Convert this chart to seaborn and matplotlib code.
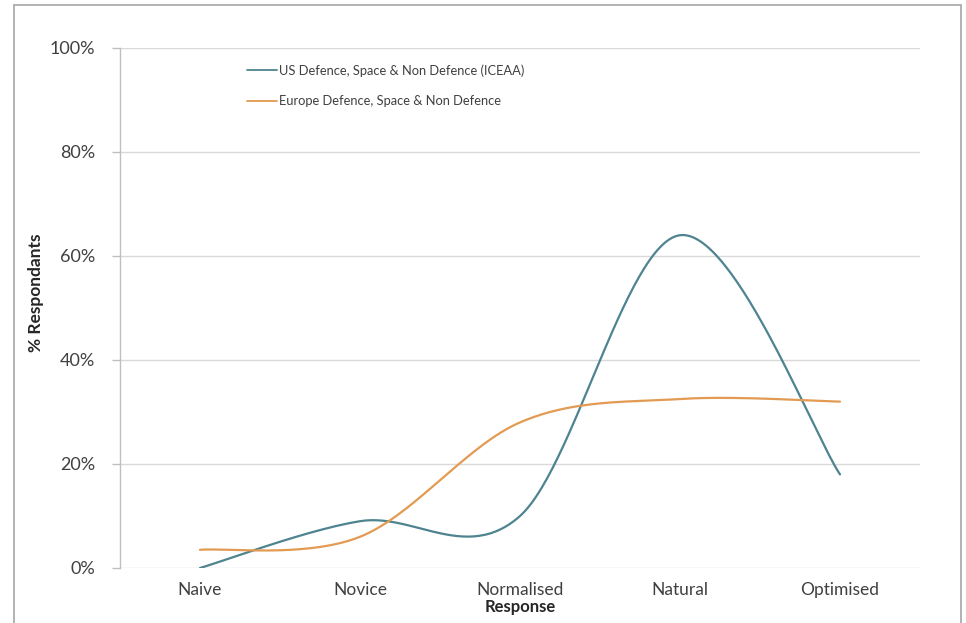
import numpy as np
import pandas as pd
import matplotlib
matplotlib.use("Agg")
import matplotlib.pyplot as plt
from matplotlib.patches import Rectangle
from matplotlib.lines import Line2D
from matplotlib.ticker import FuncFormatter
import seaborn as sns

# Survey results: share of respondents at each maturity level (%)
categories = ["Naive", "Novice", "Normalised", "Natural", "Optimised"]
us_values = [0, 9, 10, 64, 18]
europe_values = [3.5, 6, 28, 32.5, 32]
series_names = ["US Defence, Space & Non Defence (ICEAA)",
                "Europe Defence, Space & Non Defence"]
series_colors = ["#4e8390", "#e39a52"]
y_ticks = [0, 20, 40, 60, 80, 100]


def smooth_curve(values, steps=60):
    """Bezier smoothing through every point (spreadsheet-style smoothed line)."""
    pts = np.column_stack([np.arange(len(values), dtype=float),
                           np.asarray(values, dtype=float)])
    padded = np.vstack([pts[0], pts, pts[-1]])
    xs, ys = [], []
    t = np.linspace(0, 1, steps)[:, None]
    for i in range(len(pts) - 1):
        p0, p3 = pts[i], pts[i + 1]
        c1 = p0 + (padded[i + 2] - padded[i]) / 6.0
        c2 = p3 - (padded[i + 3] - padded[i + 1]) / 6.0
        seg = ((1 - t) ** 3) * p0 + 3 * ((1 - t) ** 2) * t * c1 \
            + 3 * (1 - t) * t ** 2 * c2 + t ** 3 * p3
        if i > 0:
            seg = seg[1:]
        xs.append(seg[:, 0])
        ys.append(seg[:, 1])
    return np.concatenate(xs), np.concatenate(ys)


frames = []
for name, vals in zip(series_names, [us_values, europe_values]):
    cx, cy = smooth_curve(vals)
    frames.append(pd.DataFrame({"pos": cx, "pct": cy, "series": name}))
curves = pd.concat(frames, ignore_index=True)

sns.set_style("white")
plt.rcParams["font.family"] = ["Lato", "DejaVu Sans"]

W, H = 966, 623
fig = plt.figure(figsize=(W / 100, H / 100), dpi=100)
ax = fig.add_axes([120 / W, 1 - 568 / H, (920 - 120) / W, (568 - 48) / H])

sns.lineplot(data=curves, x="pos", y="pct", hue="series", units="series",
             estimator=None, sort=False, palette=series_colors,
             linewidth=1.6, legend=False, ax=ax)

ax.set_xlim(-0.5, len(categories) - 0.5)
ax.set_ylim(0, 100)
ax.set_xticks(range(len(categories)))
ax.set_xticklabels(categories)
ax.set_yticks(y_ticks)
ax.yaxis.set_major_formatter(FuncFormatter(lambda v, _: f"{v:.0f}%"))

ax.grid(axis="y", color="#d9d9d9", linewidth=1.0)
ax.grid(axis="x", visible=False)
ax.set_axisbelow(True)
for side in ["top", "right", "bottom"]:
    ax.spines[side].set_visible(False)
ax.spines["left"].set_color("#bfbfbf")
ax.spines["left"].set_linewidth(1.0)

ax.tick_params(axis="y", length=6, width=1.0, color="#bfbfbf",
               labelsize=13, labelcolor="#404040", pad=12, direction="out",
               left=True)
ax.tick_params(axis="x", length=0, labelsize=12.5, labelcolor="#404040",
               pad=10)

ax.set_ylabel("% Respondants", fontsize=12.5, fontweight="bold",
              color="#262626")
ax.set_xlabel("Response", fontsize=12, fontweight="bold", color="#262626",
              labelpad=0.5)
ax.yaxis.set_label_coords(-0.095, 0.53)

handles = [Line2D([], [], color=c, linewidth=1.3) for c in series_colors]
leg = ax.legend(handles, series_names, loc="upper left",
                bbox_to_anchor=(247 / W, 1 - 64 / H),
                bbox_transform=fig.transFigure, frameon=False,
                fontsize=9.3, handlelength=2.3, handletextpad=0.15,
                labelspacing=1.45, borderpad=0, borderaxespad=0)
for txt in leg.get_texts():
    txt.set_color("#404040")

# Outer frame of the chart area
fig.patches.append(Rectangle((14 / W, -0.05), (961 - 14) / W, 1 + 0.05 - 5 / H,
                             transform=fig.transFigure, fill=False,
                             edgecolor="#a6a6a6", linewidth=1.2))

fig.savefig("out.png", dpi=100)
